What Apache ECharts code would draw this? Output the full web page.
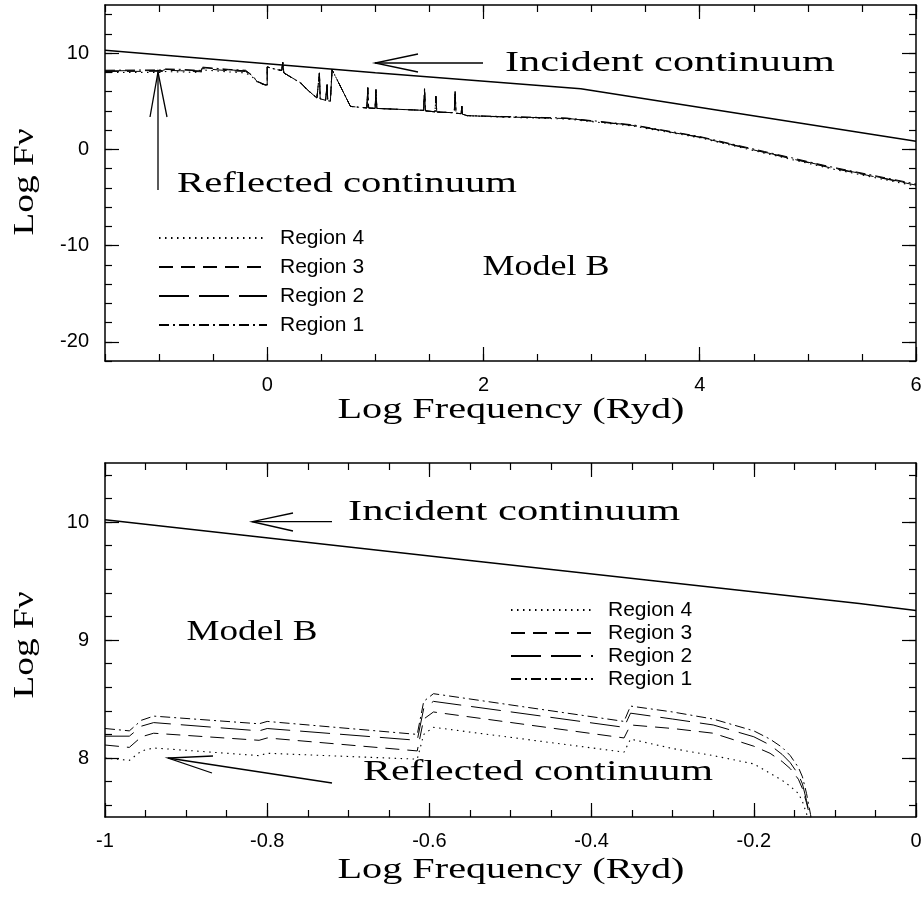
<!DOCTYPE html>
<html><head><meta charset="utf-8">
<script src="https://cdn.jsdelivr.net/npm/echarts@6/dist/echarts.min.js"></script>
<style>html,body{margin:0;padding:0;background:#fff}#c{width:922px;height:905px}</style>
</head><body><div id="c"></div>
<script>
// ---------------- DATA ----------------
const regionNames = ['Region 4', 'Region 3', 'Region 2', 'Region 1'];

// Top panel (Log Frequency -1.5 .. 6)
const topIncX = [-1.5, 1.0, 2.9, 6.0];
const topIncY = [10.3, 7.97, 6.3, 0.85];

const topX = [-1.5,-1.0,-0.97,-0.94,-0.8,-0.615,-0.6,-0.36,-0.35,-0.2,-0.14,-0.09,-0.02,0,
  0,0.09,0.135,0.144,0.154,0.31,0.37,0.46,0.476,0.483,0.49,0.54,0.548,0.554,0.56,0.584,0.6,0.77,
  0.922,0.93,0.938,0.998,1.006,1.014,1.447,1.455,1.463,1.552,1.56,1.568,1.73,1.738,1.746,1.794,1.8,1.806,1.85,
  2.15,2.77,3.38,4.0,4.6,5.2,6.0];
// low-frequency part (first 14 points) per region
const topLowR1 = [8.22,8.25,8.23,8.355,8.31,8.20,8.545,8.31,8.44,8.22,7.70,7.06,6.72,6.70];
const topLowR2 = [8.16,8.185,8.185,8.30,8.25,8.15,8.48,8.26,8.38,8.16,7.66,7.04,6.70,6.68];
const topLowR3 = [8.09,8.11,8.09,8.21,8.17,8.06,8.39,8.17,8.28,8.09,7.62,7.02,6.68,6.66];
const topLowR4 = [7.98,8.00,7.98,8.085,8.04,7.99,8.26,8.05,8.16,7.94,7.55,6.98,6.66,6.64];
// line-dominated middle part (shared by the four regions)
const topMid = [8.56,8.28,8.20,9.05,7.94,6.90,6.20,5.33,5.28,7.94,5.25,5.10,5.08,6.72,5.05,5.00,8.28,4.46,
  4.30,6.40,4.30,4.25,6.20,4.25,4.05,6.30,4.00,3.90,5.50,3.88,3.80,6.00,3.75,3.70,4.50,3.65,3.50];
// high-frequency tail per region
const topTailR1 = [3.42,3.25,2.55,1.33,-0.23,-1.79,-3.60];
const topTailR2 = [3.40,3.22,2.50,1.28,-0.30,-1.85,-3.68];
const topTailR3 = [3.38,3.20,2.48,1.25,-0.33,-1.90,-3.72];
const topTailR4 = [3.35,3.15,2.42,1.20,-0.40,-1.98,-3.82];

// Bottom panel (Log Frequency -1 .. 0)
const botIncX = [-1.0, -0.55, -0.07, 0.0];
const botIncY = [10.02, 9.674, 9.31, 9.25];
const botX = [-1,-0.97,-0.955,-0.94,-0.81,-0.80,-0.615,-0.607,-0.595,-0.36,-0.352,-0.30,-0.25,-0.20,-0.18,-0.165,-0.155,-0.145,-0.14,-0.135,-0.13,-0.125];
const botR1 = [8.25,8.23,8.32,8.355,8.29,8.31,8.20,8.48,8.545,8.31,8.44,8.39,8.33,8.23,8.16,8.09,8.02,7.92,7.84,7.70,7.52,7.30];
const botR2 = [8.185,8.185,8.27,8.30,8.23,8.25,8.15,8.42,8.48,8.26,8.38,8.33,8.28,8.18,8.11,8.03,7.96,7.86,7.78,7.64,7.48,7.30];
const botR3 = [8.11,8.09,8.18,8.21,8.15,8.17,8.06,8.33,8.39,8.17,8.28,8.25,8.21,8.10,8.04,7.97,7.91,7.82,7.74,7.62,7.48,7.30];
const botR4 = [8.00,7.98,8.06,8.085,8.02,8.04,7.99,8.20,8.26,8.05,8.16,8.08,8.02,7.95,7.87,7.81,7.76,7.70,7.63,7.53,7.38,7.20];

// Tick labels
const topXLabels = [0, 2, 4, 6];
const topYLabels = [-20, -10, 0, 10];
const botXLabels = [-1, -0.8, -0.6, -0.4, -0.2, 0];
const botYLabels = [8, 9, 10];

// ---------------- BUILD ----------------
const SANS = '"Liberation Sans", Arial, sans-serif';
const SERIF_FONT = '30px "Liberation Serif", serif';
const AX = '#000';

function range(a, b, s) { const r = []; for (let v = a; v <= b + 1e-9; v += s) r.push(Math.round(v * 1e6) / 1e6); return r; }
function pairs(xs, ys) { return xs.map((x, i) => [x, ys[i]]); }

function axisSet(dim, g, min, max, minor, major, labels, margin) {
  const base = { type: 'value', gridIndex: g, min, max, splitLine: { show: false }, axisPointer: { show: false } };
  const line = { show: true, onZero: false, lineStyle: { color: AX, width: 1.5 } };
  const noLine = { show: false, onZero: false };
  const tk = (vals, len) => ({ show: true, inside: true, length: len, customValues: vals, lineStyle: { color: AX, width: 1.2 } });
  const p1 = dim === 'x' ? 'bottom' : 'left';
  const p2 = dim === 'x' ? 'top' : 'right';
  return [
    Object.assign({}, base, { position: p1, axisLine: line, axisTick: tk(minor, 7),
      axisLabel: { show: true, customValues: labels, margin, color: '#000', fontSize: 20, fontFamily: SANS, formatter: v => String(v) } }),
    Object.assign({}, base, { position: p1, axisLine: noLine, axisTick: tk(major, 14), axisLabel: { show: false } }),
    Object.assign({}, base, { position: p2, axisLine: line, axisTick: tk(minor, 7), axisLabel: { show: false } }),
    Object.assign({}, base, { position: p2, axisLine: noLine, axisTick: tk(major, 14), axisLabel: { show: false } })
  ];
}

const xAxes = [].concat(
  axisSet('x', 0, -1.5, 6, range(-1.5, 6, 0.5), topXLabels, topXLabels, 14),
  axisSet('x', 1, -1, 0, range(-1, 0, 0.05), botXLabels, botXLabels, 14)
);
const yAxes = [].concat(
  axisSet('y', 0, -22, 15, range(-22, 14, 2), topYLabels, topYLabels, 16),
  axisSet('y', 1, 7.5, 10.5, range(7.6, 10.4, 0.2), botYLabels, botYLabels, 16)
);

const styles = {
  'Region 1': { type: [10, 4, 2, 4], width: 1 },
  'Region 2': { type: [30, 10], width: 1 },
  'Region 3': { type: [14, 8], width: 1 },
  'Region 4': { type: [1.5, 4.5], width: 1.1 }
};

function ser(name, data, axisIdx, ls) {
  return { type: 'line', name, data, xAxisIndex: axisIdx, yAxisIndex: axisIdx, symbol: 'none', showSymbol: false,
    silent: true, animation: false, clip: true,
    lineStyle: Object.assign({ color: '#000', cap: 'butt' }, ls), itemStyle: { color: '#000' } };
}

const topR = {
  'Region 1': [...topLowR1, ...topMid, ...topTailR1],
  'Region 2': [...topLowR2, ...topMid, ...topTailR2],
  'Region 3': [...topLowR3, ...topMid, ...topTailR3],
  'Region 4': [...topLowR4, ...topMid, ...topTailR4]
};
const botR = { 'Region 1': botR1, 'Region 2': botR2, 'Region 3': botR3, 'Region 4': botR4 };

const series = [ser('Incident', pairs(topIncX, topIncY), 0, { width: 1.5, type: 'solid' }),
                ser('Incident', pairs(botIncX, botIncY), 4, { width: 1.5, type: 'solid' })];
['Region 1', 'Region 2', 'Region 3', 'Region 4'].forEach(n => {
  series.push(ser(n, pairs(topX, topR[n]), 0, styles[n]));
  series.push(ser(n, pairs(botX, botR[n]), 4, styles[n]));
});

// serif annotation texts, stretched to reference width
const mctx = document.createElement('canvas').getContext('2d');
function serifText(str, cx, cy, w, rot) {
  mctx.font = SERIF_FONT;
  const mw = mctx.measureText(str).width;
  return { type: 'text', x: cx, y: cy, rotation: rot || 0, scaleX: w / mw, silent: true,
    style: { text: str, font: SERIF_FONT, fill: '#000', align: 'center', verticalAlign: 'middle',
             textAlign: 'center', textVerticalAlign: 'middle' } };
}
function poly(points) {
  return { type: 'polyline', silent: true, shape: { points }, style: { stroke: '#000', lineWidth: 1.3, fill: null } };
}

const graphics = [
  serifText('Incident continuum', 670, 63, 330),
  serifText('Reflected continuum', 347, 184, 340),
  serifText('Model B', 546, 267, 127),
  serifText('Log F\u03BD', 25, 182, 107, Math.PI / 2),
  serifText('Log Frequency (Ryd)', 511, 410, 347),
  serifText('Incident continuum', 514, 512, 332),
  serifText('Model B', 252, 632, 131),
  serifText('Reflected continuum', 538, 772, 350),
  serifText('Log F\u03BD', 25, 645, 107, Math.PI / 2),
  serifText('Log Frequency (Ryd)', 511, 870, 347),
  poly([[375, 63], [483, 63]]), poly([[418, 54], [375, 63], [418, 72]]),
  poly([[158, 72], [158, 190]]), poly([[150, 117], [158, 72], [167, 117]]),
  poly([[252, 521.7], [332, 521.7]]), poly([[293, 513], [252, 521.7], [293, 531]]),
  poly([[168, 758], [332, 783]]), poly([[213, 756], [168, 758], [212, 773]])
];

const legendBase = { orient: 'vertical', padding: 0, itemHeight: 14, selectedMode: false, data: regionNames,
  itemStyle: { color: 'rgba(0,0,0,0)', borderColor: 'rgba(0,0,0,0)', borderWidth: 0, opacity: 0 },
  textStyle: { color: '#000', fontSize: 21, fontFamily: SANS, lineHeight: 22 } };

const option = {
  backgroundColor: '#fff',
  animation: false,
  grid: [
    { left: 105, top: 5, width: 811, height: 356, outerBoundsMode: 'none', containLabel: false },
    { left: 105, top: 463, width: 811, height: 354, outerBoundsMode: 'none', containLabel: false }
  ],
  xAxis: xAxes,
  yAxis: yAxes,
  legend: [
    Object.assign({}, legendBase, { left: 158, top: 227, itemWidth: 108, itemGap: 7,
      textStyle: Object.assign({}, legendBase.textStyle, { padding: [0, 0, 0, 8] }) }),
    Object.assign({}, legendBase, { left: 510, top: 599, itemWidth: 82, itemGap: 1,
      textStyle: Object.assign({}, legendBase.textStyle, { padding: [0, 0, 0, 10] }) })
  ],
  series,
  graphic: graphics
};

const chart = echarts.init(document.getElementById('c'), null, { renderer: 'canvas' });
chart.setOption(option);
</script>
</body></html>
